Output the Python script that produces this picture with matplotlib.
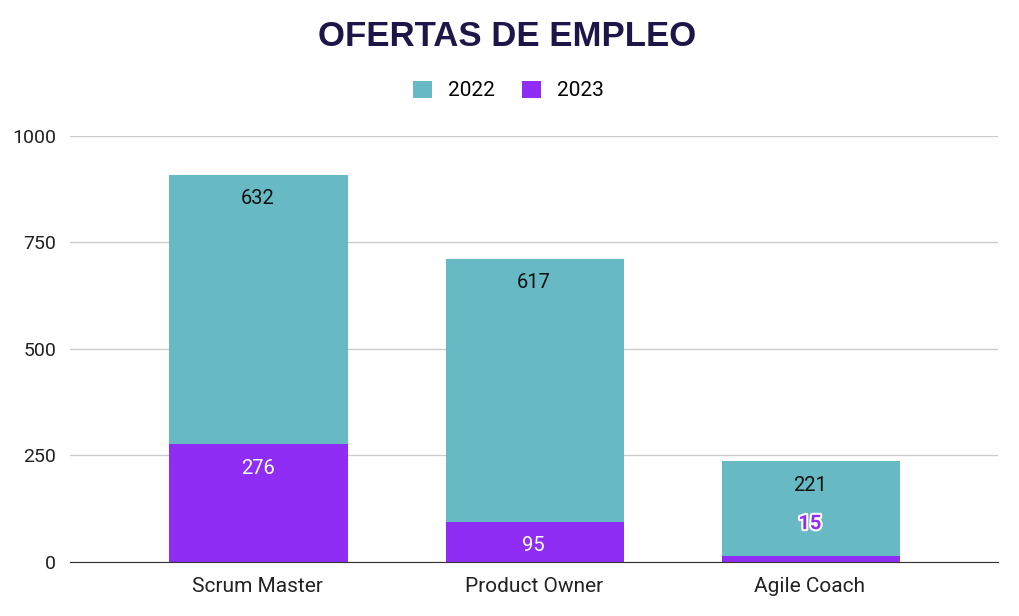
import matplotlib.pyplot as plt
import matplotlib.patheffects as pe

categories = ["Scrum Master", "Product Owner", "Agile Coach"]
vals_2023 = [276, 95, 15]
vals_2022 = [632, 617, 221]
series_names = ["2022", "2023"]
yticks = [0, 250, 500, 750, 1000]

TEAL = "#67b9c3"
PURPLE = "#8f2df5"

plt.rcParams["font.family"] = ["Roboto", "DejaVu Sans"]

fig = plt.figure(figsize=(10.2, 6.16), dpi=100)
ax = fig.add_axes([0.0686, 0.0877, 0.9094, 0.6916])

x = range(len(categories))
w = 0.647
b23 = ax.bar([i + 0.004 for i in x], vals_2023, width=w, color=PURPLE, label=series_names[1], zorder=3)
b22 = ax.bar([i + 0.004 for i in x], vals_2022, width=w, bottom=vals_2023, color=TEAL, label=series_names[0], zorder=3)

for i, (a, b) in enumerate(zip(vals_2023, vals_2022)):
    ax.annotate(str(b), (i, a + b), xytext=(0, -17), textcoords="offset points",
                ha="center", va="center", fontsize=14.5, color="#111111", zorder=5)
    if a > 50:
        ax.annotate(str(a), (i, a), xytext=(0, -17), textcoords="offset points",
                    ha="center", va="center", fontsize=14.5, color="white", zorder=5)
    else:
        ax.annotate(str(a), (i, a), xytext=(0, 23), textcoords="offset points",
                    ha="center", va="center", fontsize=14.5, color=PURPLE, fontweight="bold", zorder=5,
                    path_effects=[pe.withStroke(linewidth=3, foreground="white")])

ax.set_xlim(-0.68, 2.68)
ax.set_ylim(0, 1000)
ax.set_yticks(yticks)
ax.set_xticks(list(x))
ax.set_xticklabels(categories, fontsize=15)
ax.tick_params(axis="both", length=0, labelsize=14, colors="#222222")
ax.tick_params(axis="x", labelsize=15, pad=11)
ax.tick_params(axis="y", pad=10)
ax.grid(axis="y", color="#cccccc", linewidth=1, zorder=0)
for s in ["top", "right", "left"]:
    ax.spines[s].set_visible(False)
ax.spines["bottom"].set_color("#333333")
ax.spines["bottom"].set_zorder(4)

fig.text(0.497, 0.94, "OFERTAS DE EMPLEO", ha="center", va="center",
         fontsize=25, fontweight="bold", color="#1e1548", family=["Liberation Sans", "DejaVu Sans"])

handles = [b22, b23]
fig.legend(handles, series_names, loc="center", bbox_to_anchor=(0.4985, 0.853), ncol=2,
           frameon=False, fontsize=15, handlelength=0.9, handleheight=0.9,
           columnspacing=1.32, handletextpad=0.75)

fig.savefig("out.png", dpi=100)
